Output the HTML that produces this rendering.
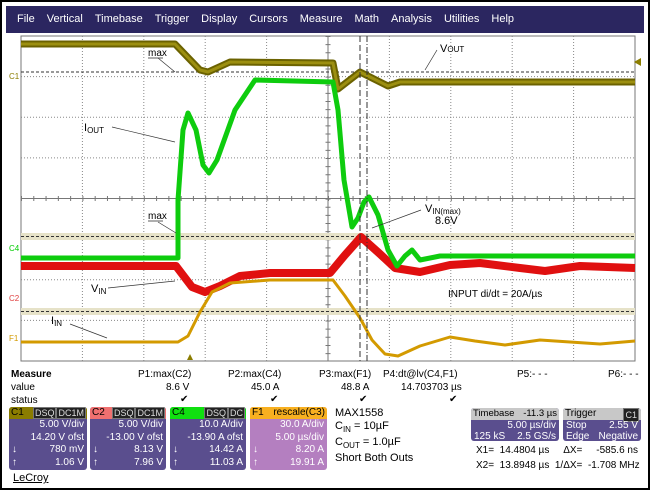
<!DOCTYPE html>
<html><head><meta charset="utf-8"><style>
body{margin:0;width:650px;height:490px;overflow:hidden;background:#fff;font-family:"Liberation Sans",sans-serif;}
.fr{position:absolute;left:0;top:0;width:646px;height:486px;border:2px solid #000;}
.menu{position:absolute;left:6px;top:6px;width:638px;height:27px;background:#2b2660;color:#fff;font-size:11px;line-height:27px;}
.menu span{margin-left:11px;margin-right:1px}
.t{position:absolute;font-size:10px;color:#000;white-space:nowrap}
.box{position:absolute;top:407px;height:63px;background:#5a4e8e;color:#fff;font-size:10px;border-radius:3px;overflow:hidden;white-space:nowrap}
.hd{height:12px;line-height:12px;padding:0 2px;color:#000;position:relative}
.r{text-align:right;padding-right:3px;line-height:12.5px}
.tag{background:#222;color:#ddd;font-size:9px;padding:0 1px;border:1px solid #777}
</style></head><body>
<div class="fr"></div>
<div class="menu"><span>File</span><span>Vertical</span><span>Timebase</span><span>Trigger</span><span>Display</span><span>Cursors</span><span>Measure</span><span>Math</span><span>Analysis</span><span>Utilities</span><span>Help</span></div>
<svg style="position:absolute;left:0;top:0" width="650" height="400">
<rect x="21" y="36" width="614" height="325" fill="#fff" stroke="#777"/>
<g stroke="#888" stroke-dasharray="1,2">
<line x1="82.4" y1="36" x2="82.4" y2="361"/><line x1="143.8" y1="36" x2="143.8" y2="361"/><line x1="205.2" y1="36" x2="205.2" y2="361"/><line x1="266.6" y1="36" x2="266.6" y2="361"/><line x1="389.4" y1="36" x2="389.4" y2="361"/><line x1="450.8" y1="36" x2="450.8" y2="361"/><line x1="512.2" y1="36" x2="512.2" y2="361"/><line x1="573.6" y1="36" x2="573.6" y2="361"/>
<line x1="21" y1="76.6" x2="635" y2="76.6"/><line x1="21" y1="117.2" x2="635" y2="117.2"/><line x1="21" y1="157.9" x2="635" y2="157.9"/><line x1="21" y1="239" x2="635" y2="239"/><line x1="21" y1="279.7" x2="635" y2="279.7"/><line x1="21" y1="320.4" x2="635" y2="320.4"/>
</g>
<line x1="21" y1="198.5" x2="635" y2="198.5" stroke="#777"/>
<line x1="328" y1="36" x2="328" y2="361" stroke="#777"/>
<g stroke="#777" stroke-dasharray="1,11.28" stroke-width="5">
<line x1="21" y1="198.5" x2="635" y2="198.5"/>
</g>
<g stroke="#777" stroke-dasharray="1,7.13" stroke-width="5">
<line x1="328" y1="36" x2="328" y2="361"/>
</g>
<rect x="21" y="233" width="614" height="7" fill="#e6e2c8"/>
<rect x="21" y="308" width="614" height="7" fill="#e6e2c8"/>
<g stroke="#333" stroke-dasharray="3,2" fill="none">
<line x1="21" y1="72" x2="635" y2="72"/><line x1="21" y1="236.5" x2="635" y2="236.5"/><line x1="21" y1="311.5" x2="635" y2="311.5"/>
</g>
<g fill="none" stroke-linejoin="round">
<path d="M21,44 L175,44 L200,70 L208,72 L230,62 L333,63 L338,89 L360,72 L372,78 L388,86 L400,82 L635,82" stroke="#6b6200" stroke-width="7"/>
<path d="M21,44 L175,44 L200,70 L208,72 L230,62 L333,63 L338,89 L360,72 L372,78 L388,86 L400,82 L635,82" stroke="#9c8f10" stroke-width="3"/>
<path d="M21,266 L176,266 L192,287 L205,292 L220,286 L240,276 L270,273 L330,273 L345,255 L361,237 L380,254 L395,268 L420,272 L450,265 L480,263 L520,268 L545,271 L580,266 L635,268" stroke="#e01010" stroke-width="8"/>
<path d="M21,342 L178,342 L188,336 L200,312 L212,292 L230,283 L270,280 L333,280 L345,296 L360,318 L372,340 L385,354 L398,356 L420,346 L450,337 L475,341 L505,345 L540,340 L570,342 L600,344 L635,341" stroke="#d39a00" stroke-width="3"/>
<path d="M21,258 L178,258 L178,200 L183,130 L188,113 L196,130 L203,165 L209,173 L217,160 L235,110 L255,80 L333,82 L338,110 L344,180 L352,227 L358,218 L364,202 L369,197 L378,215 L388,250 L397,266 L405,256 L412,250 L420,260 L440,256 L635,256" stroke="#0ecc0e" stroke-width="5"/>
</g>
<line x1="360" y1="36" x2="360" y2="361" stroke="#333" stroke-dasharray="6,3"/>
<line x1="367" y1="36" x2="367" y2="361" stroke="#333" stroke-dasharray="6,2,1,2"/>
<g stroke="#333" fill="none">
<line x1="112" y1="127" x2="175" y2="142" stroke-width="0.7"/>
<line x1="158" y1="58" x2="175" y2="72" stroke-width="0.7"/>
<line x1="158" y1="222" x2="176" y2="233" stroke-width="0.7"/>
<line x1="108" y1="288" x2="175" y2="281" stroke-width="0.7"/>
<line x1="70" y1="324" x2="107" y2="338" stroke-width="0.7"/>
<line x1="437" y1="50" x2="425" y2="70" stroke-width="0.7"/>
<line x1="421" y1="210" x2="372" y2="228" stroke-width="0.7"/>
<line x1="148" y1="58" x2="163" y2="58" stroke-width="0.8"/>
<line x1="148" y1="221" x2="163" y2="221" stroke-width="0.8"/>
</g>
<g font-family="Liberation Sans" font-size="10" fill="#000">
<text x="148" y="56">max</text><text x="148" y="219">max</text>
<text x="440" y="52" font-size="11">V<tspan font-size="8">OUT</tspan></text>
<text x="84" y="131" font-size="11">I<tspan font-size="8" dy="2">OUT</tspan></text>
<text x="91" y="292" font-size="11">V<tspan font-size="8" dy="2">IN</tspan></text>
<text x="51" y="324" font-size="11">I<tspan font-size="8" dy="2">IN</tspan></text>
<text x="425" y="212" font-size="11">V<tspan font-size="8" dy="2">IN(max)</tspan></text>
<text x="435" y="224" font-size="11">8.6V</text>
<text x="448" y="297" font-size="10">INPUT di/dt = 20A/µs</text>
<text x="9" y="79" font-size="8" fill="#8b7d00">C1</text>
<text x="9" y="251" font-size="8" fill="#0c0">C4</text>
<text x="9" y="301" font-size="8" fill="#e04040">C2</text>
<text x="9" y="341" font-size="8" fill="#d39a00">F1</text>
</g>
<polygon points="634,62 641,58 641,66" fill="#8b7d00"/>
<polygon points="187,360 190,354 193,360" fill="#8b7d00"/>
</svg>
<div class="t" style="left:11px;top:369px;font-weight:bold">Measure</div>
<div class="t" style="left:11px;top:382px">value</div>
<div class="t" style="left:11px;top:395px">status</div>
<div class="t" style="left:138px;top:369px">P1:max(C2)</div><div class="t" style="left:166px;top:382px">8.6 V</div><div class="t" style="left:180px;top:394px">✔</div>
<div class="t" style="left:228px;top:369px">P2:max(C4)</div><div class="t" style="left:251px;top:382px">45.0 A</div><div class="t" style="left:270px;top:394px">✔</div>
<div class="t" style="left:319px;top:369px">P3:max(F1)</div><div class="t" style="left:341px;top:382px">48.8 A</div><div class="t" style="left:359px;top:394px">✔</div>
<div class="t" style="left:383px;top:369px">P4:dt@lv(C4,F1)</div><div class="t" style="left:401px;top:382px">14.703703 µs</div><div class="t" style="left:449px;top:394px">✔</div>
<div class="t" style="left:517px;top:369px">P5:- - -</div><div class="t" style="left:608px;top:369px">P6:- - -</div>
<div class="box" style="left:9px;width:78px"><div class="hd" style="background:#8b7d00">C1<span style="position:absolute;right:1px"><span class="tag">DSQ</span><span class="tag">DC1M</span></span></div><div class="r">5.00 V/div<br>14.20 V ofst</div><div class="r" style="position:relative">780 mV<br>1.06 V<span style="position:absolute;left:3px;top:0">↓<br>↑</span></div></div>
<div class="box" style="left:90px;width:76px"><div class="hd" style="background:#f07070">C2<span style="position:absolute;right:1px"><span class="tag">DSQ</span><span class="tag">DC1M</span></span></div><div class="r">5.00 V/div<br>-13.00 V ofst</div><div class="r" style="position:relative">8.13 V<br>7.96 V<span style="position:absolute;left:3px;top:0">↓<br>↑</span></div></div>
<div class="box" style="left:170px;width:76px"><div class="hd" style="background:#10e010">C4<span style="position:absolute;right:1px"><span class="tag">DSQ</span><span class="tag">DC</span></span></div><div class="r">10.0 A/div<br>-13.90 A ofst</div><div class="r" style="position:relative">14.42 A<br>11.03 A<span style="position:absolute;left:3px;top:0">↓<br>↑</span></div></div>
<div class="box" style="left:250px;width:77px;background:#b47fc0"><div class="hd" style="background:#f8b020">F1<span style="position:absolute;right:2px">rescale(C3)</span></div><div class="r">30.0 A/div<br>5.00 µs/div</div><div class="r" style="position:relative">8.20 A<br>19.91 A<span style="position:absolute;left:3px;top:0">↓<br>↑</span></div></div>
<div class="t" style="left:335px;top:407px;font-size:11px;line-height:13px">MAX1558<br>C<sub style="font-size:8px">IN</sub> = 10µF<br>C<sub style="font-size:8px">OUT</sub> = 1.0µF<br>Short Both Outs</div>
<div class="box" style="left:471px;top:408px;width:88px;height:33px"><div class="hd" style="background:#c8c8c8;font-size:9.5px">Timebase<span style="position:absolute;right:2px">-11.3 µs</span></div><div class="r">5.00 µs/div</div><div class="r" style="position:relative;margin-top:-2px">2.5 GS/s<span style="position:absolute;left:3px">125 kS</span></div></div>
<div class="box" style="left:563px;top:408px;width:78px;height:33px"><div class="hd" style="background:#c8c8c8">Trigger<span class="tag" style="position:absolute;right:2px">C1</span></div><div class="r" style="position:relative">2.55 V<span style="position:absolute;left:3px">Stop</span></div><div class="r" style="position:relative;margin-top:-2px">Negative<span style="position:absolute;left:3px">Edge</span></div></div>
<div class="t" style="left:476px;top:445px">X1= &nbsp;14.4804 µs &nbsp; &nbsp; ΔX= &nbsp; &nbsp; -585.6 ns</div>
<div class="t" style="left:476px;top:460px">X2= &nbsp;13.8948 µs &nbsp;1/ΔX= &nbsp;-1.708 MHz</div>
<div class="t" style="left:13px;top:472px;font-size:11px;text-decoration:underline">LeCroy</div>
</body></html>
